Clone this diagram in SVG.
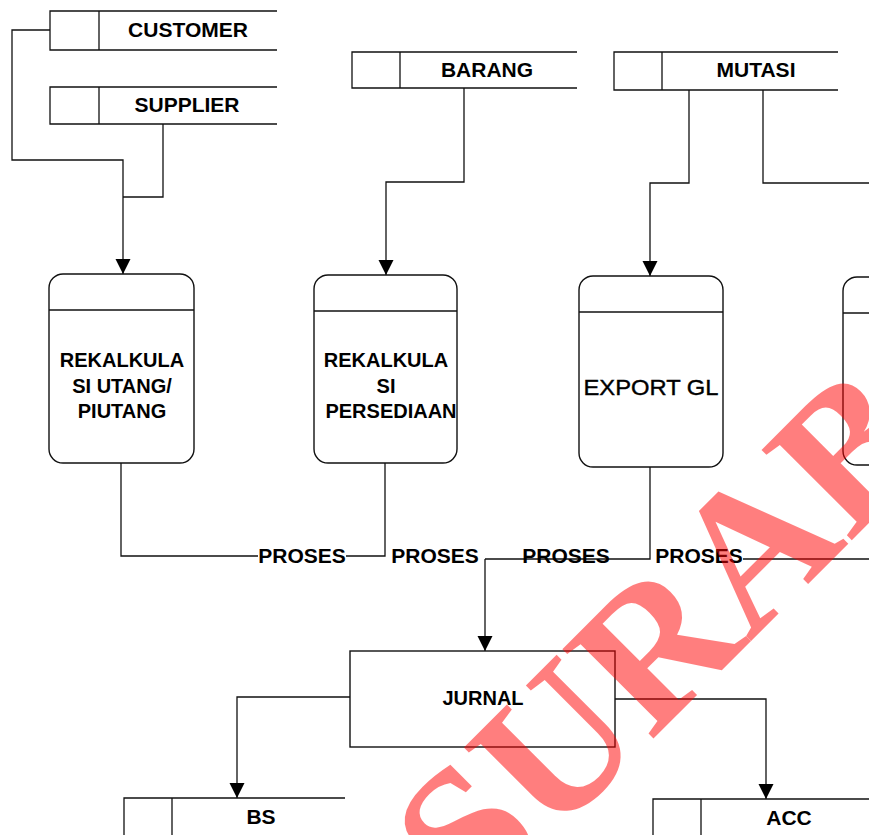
<svg xmlns="http://www.w3.org/2000/svg" width="869" height="835" viewBox="0 0 869 835">
<defs>
<marker id="ah" markerUnits="userSpaceOnUse" markerWidth="16" markerHeight="16" viewBox="0 0 16 16" refX="15" refY="8" orient="auto">
<path d="M0,0.5 L15,8 L0,15.5 Z" fill="#000"/>
</marker>
</defs>
<style>
.ln{fill:none;stroke:#111;stroke-width:1.3}
.bx{fill:#fff;stroke:#111;stroke-width:1.4}
.t{font-family:"Liberation Sans",Arial,sans-serif;font-weight:bold;fill:#000;text-anchor:middle}
.s21{font-size:21px}
.s20{font-size:20px}
.wm{font-family:"Liberation Serif","Times New Roman",serif;font-size:195px;font-weight:bold;fill:#ff0000;opacity:0.5}
</style>
<rect width="869" height="835" fill="#fff"/>
<g id="connectors">
<path class="ln" d="M50,30 H12 V160 H123 V197"/>
<path class="ln" d="M163,124 V197 H123"/>
<path class="ln" d="M123,197 V274" marker-end="url(#ah)"/>
<path class="ln" d="M464,88 V182 H386 V275" marker-end="url(#ah)"/>
<path class="ln" d="M689,90 V183 H650 V276" marker-end="url(#ah)"/>
<path class="ln" d="M763,90 V183 H869"/>
<path class="ln" d="M121,463 V556 H258"/>
<path class="ln" d="M346,556 H385 V463"/>
<path class="ln" d="M485,559 H650 V467"/>
<path class="ln" d="M743,559 H869"/>
<path class="ln" d="M485,559 V651" marker-end="url(#ah)"/>
<path class="ln" d="M350,697 H237 V798" marker-end="url(#ah)"/>
<path class="ln" d="M615,699 H766 V799" marker-end="url(#ah)"/>
</g>
<g id="customer">
<path class="ln" d="M277,11 H50 V50 H277 M99,11 V50"/>
<text class="t s21" x="188" y="37">CUSTOMER</text>
</g>
<g id="supplier">
<path class="ln" d="M277,87 H50 V124 H277 M99,87 V124"/>
<text class="t s21" x="187" y="112">SUPPLIER</text>
</g>
<g id="barang">
<path class="ln" d="M577,52 H352 V88 H577 M400,52 V88"/>
<text class="t s21" x="487" y="77">BARANG</text>
</g>
<g id="mutasi">
<path class="ln" d="M838,52 H614 V90 H838 M662,52 V90"/>
<text class="t s21" x="756" y="77">MUTASI</text>
</g>
<g id="proc1">
<rect class="bx" x="49" y="274" width="145" height="189" rx="14"/>
<line class="ln" x1="49" y1="310" x2="194" y2="310"/>
<text class="t s20" x="122" y="367">REKALKULA</text>
<text class="t s20" x="122" y="393">SI UTANG/</text>
<text class="t s20" x="122" y="418">PIUTANG</text>
</g>
<g id="proc2">
<rect class="bx" x="314" y="275" width="143" height="188" rx="14"/>
<line class="ln" x1="314" y1="311" x2="457" y2="311"/>
<text class="t s20" x="386" y="367">REKALKULA</text>
<text class="t s20" x="386" y="393">SI</text>
<text class="t s20" x="391" y="418">PERSEDIAAN</text>
</g>
<g id="proc3">
<rect class="bx" x="579" y="276" width="144" height="191" rx="14"/>
<line class="ln" x1="579" y1="312" x2="723" y2="312"/>
<text class="t" x="651" y="395" style="font-size:22px;font-weight:normal;stroke:#000;stroke-width:0.4" textLength="135" lengthAdjust="spacingAndGlyphs">EXPORT GL</text>
</g>
<g id="proc4">
<rect class="bx" x="843" y="277" width="160" height="188" rx="14"/>
<line class="ln" x1="843" y1="313" x2="1003" y2="313"/>
</g>
<g id="labels">
<text class="t s21" x="302" y="563">PROSES</text>
<text class="t s21" x="435" y="563">PROSES</text>
<text class="t s21" x="566" y="563">PROSES</text>
<text class="t s21" x="699" y="563">PROSES</text>
</g>
<g id="jurnal">
<rect class="bx" x="350" y="651" width="265" height="96"/>
<text class="t s20" x="483" y="705">JURNAL</text>
</g>
<g id="bs">
<path class="ln" d="M345,798 H124 V840 H345 M172,798 V840"/>
<text class="t s21" x="261" y="824">BS</text>
</g>
<g id="acc">
<path class="ln" d="M869,799 H653 V840 H869 M701,799 V840"/>
<text class="t s21" x="789" y="825">ACC</text>
</g>
<text class="wm" transform="translate(474,918) rotate(-45)">SURABAYA</text>
</svg>
